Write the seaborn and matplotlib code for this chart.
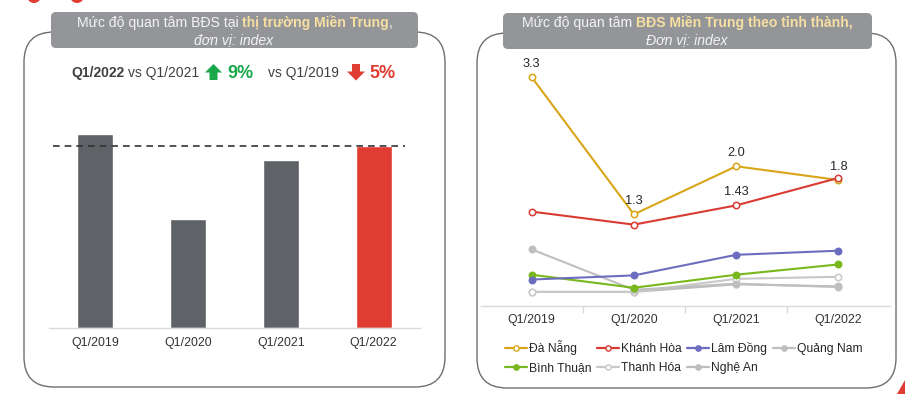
import matplotlib
matplotlib.use("Agg")
import matplotlib.pyplot as plt
import matplotlib.patches as mpatches
from matplotlib.lines import Line2D
import seaborn as sns

# ---------------- data ----------------
quarters = ["Q1/2019", "Q1/2020", "Q1/2021", "Q1/2022"]
bar_values = [100, 56, 86.7, 94.1]
bar_colors = ["#5F6266", "#5F6266", "#5F6266", "#E03C31"]

series_names = ["Đà Nẵng", "Khánh Hòa", "Lâm Đồng", "Quảng Nam",
                "Bình Thuận", "Thanh Hóa", "Nghệ An"]
da_nang = [3.3, 1.3, 2.0, 1.8]
khanh_hoa = [1.34, 1.15, 1.43, 1.83]
lam_dong = [0.35, 0.41, 0.71, 0.77]
quang_nam = [0.79, 0.20, 0.29, 0.24]
binh_thuan = [0.42, 0.23, 0.42, 0.57]
thanh_hoa = [0.17, 0.17, 0.36, 0.39]
nghe_an = [0.17, 0.17, 0.28, 0.25]
da_nang_labels = ["3.3", "1.3", "2.0", "1.8"]
khanh_hoa_label_2021 = "1.43"

sns.set_theme(style="white")
plt.rcParams["font.family"] = ["Liberation Sans", "DejaVu Sans"]

W, H = 905, 394
fig = plt.figure(figsize=(W / 100, H / 100), dpi=100)

# overlay axes in pixel coordinates
ov = fig.add_axes([0, 0, 1, 1], zorder=0)
ov.set_xlim(0, W)
ov.set_ylim(H, 0)
ov.axis("off")
ov.patch.set_alpha(0)


def fx(x):
    return x / W


def fy(y):
    return 1 - y / H


# panel boxes
for (x0, y0, x1, y1) in [(24, 32, 445, 387), (477, 33, 896, 388)]:
    ov.add_patch(mpatches.FancyBboxPatch((x0, y0), x1 - x0, y1 - y0,
                                         boxstyle="round,pad=0,rounding_size=30",
                                         fc="white", ec="#6f6f6f", lw=1.0))
# title boxes
for (x0, y0, x1, y1) in [(51, 12, 418, 48), (503, 13, 872, 49)]:
    ov.add_patch(mpatches.FancyBboxPatch((x0, y0), x1 - x0, y1 - y0,
                                         boxstyle="round,pad=0,rounding_size=5",
                                         fc="#939598", ec="none"))

# red decorations
ov.add_patch(mpatches.Circle((34, -4), 7, fc="#E03C31", ec="none", clip_on=False))
ov.add_patch(mpatches.Circle((77, -4), 7, fc="#E03C31", ec="none", clip_on=False))
ov.add_patch(mpatches.Polygon([(897, 394), (905, 380), (905, 394)], closed=True,
                              fc="#E03C31", ec="none", clip_on=False))

renderer = fig.canvas.get_renderer()


def seq_text(parts, cx, y):
    objs, gaps = [], []
    for s, kw, gap in parts:
        t = ov.text(0, y, s, va="center", ha="left", **kw)
        objs.append(t)
        gaps.append(gap)
    widths = [t.get_window_extent(renderer).width for t in objs]
    total = sum(widths) + sum(gaps)
    x = cx - total / 2
    for t, w, g in zip(objs, widths, gaps):
        t.set_x(x)
        x += w + g


light = "#F4F4F4"
yellow = "#F7DFA2"
tsize = 10.1
seq_text([("Mức độ quan tâm BĐS tại", dict(color=light, fontsize=tsize), 3.6),
          ("thị trường Miền Trung", dict(color=yellow, fontsize=tsize, fontweight="bold"), 0),
          (",", dict(color=light, fontsize=tsize), 0)], 234.5, 23)
ov.text(234, 40, "đơn vị: index", color=light, fontsize=tsize, style="italic",
        ha="center", va="center")

seq_text([("Mức độ quan tâm", dict(color=light, fontsize=tsize), 3.6),
          ("BĐS Miền Trung theo tỉnh thành,", dict(color=yellow, fontsize=tsize, fontweight="bold"), 0)],
         687, 23)
ov.text(687, 40, "Đơn vị: index", color=light, fontsize=tsize, style="italic",
        ha="center", va="center")

# comparison row
dark = "#404040"
green = "#1AA84B"
red = "#E03C31"
ov.text(71, 73, "Q1/2022", color=dark, fontsize=10, fontweight="bold", ha="left", va="center")
ov.text(128, 73, "vs Q1/2021", color=dark, fontsize=10, ha="left", va="center")
ov.add_patch(mpatches.Polygon([(209.5, 80), (209.5, 72.5), (205, 72.5), (213.5, 64),
                               (222, 72.5), (217.5, 72.5), (217.5, 80)],
                              closed=True, fc=green, ec="none"))
ov.text(227, 73.5, "9%", color=green, fontsize=13, fontweight="bold", ha="left", va="center")
ov.text(268, 73, "vs Q1/2019", color=dark, fontsize=10, ha="left", va="center")
ov.add_patch(mpatches.Polygon([(352, 64), (352, 71.5), (347, 71.5), (356, 80.5),
                               (365, 71.5), (360, 71.5), (360, 64)],
                              closed=True, fc=red, ec="none"))
ov.text(369, 73.5, "5%", color=red, fontsize=13, fontweight="bold", ha="left", va="center")

# ---------------- bar chart ----------------
bx0, bx1, by0, by1 = 49, 420, 110, 327.7
ax1 = fig.add_axes([fx(bx0), fy(by1), (bx1 - bx0) / W, (by1 - by0) / H], zorder=1)
ax1.patch.set_alpha(0)
sns.barplot(x=quarters, y=bar_values, hue=quarters, palette=bar_colors,
            width=0.39, saturation=1, legend=False, ax=ax1)
ax1.set_xlim(-0.5, 3.5)
ax1.set_ylim(0, 112.56)
ax1.hlines(bar_values[3], -0.455, 3.34, colors="#333333", linestyles=(0, (4, 3)), lw=1.2)
for s in ["left", "right", "top"]:
    ax1.spines[s].set_visible(False)
ax1.spines["bottom"].set_color("#D9D9D9")
ax1.spines["bottom"].set_linewidth(1)
ax1.set_yticks([])
ax1.tick_params(axis="x", length=0, pad=7, labelsize=8.9, labelcolor="#333333")
ax1.set_xlabel("")
ax1.set_ylabel("")

# ---------------- line chart ----------------
lx0, lx1, ly0, ly1 = 480.5, 889.5, 55, 306
ax2 = fig.add_axes([fx(lx0), fy(ly1), (lx1 - lx0) / W, (ly1 - ly0) / H], zorder=1)
ax2.patch.set_alpha(0)

style = {
    "Đà Nẵng": (da_nang, "#D8A517", True),
    "Khánh Hòa": (khanh_hoa, "#D93A32", True),
    "Lâm Đồng": (lam_dong, "#6C6CC0", False),
    "Quảng Nam": (quang_nam, "#BFBFBF", False),
    "Bình Thuận": (binh_thuan, "#78B81C", False),
    "Thanh Hóa": (thanh_hoa, "#C8C8C8", True),
    "Nghệ An": (nghe_an, "#BDBDBD", False),
}
draw_order = ["Nghệ An", "Thanh Hóa", "Quảng Nam", "Bình Thuận", "Lâm Đồng",
              "Đà Nẵng", "Khánh Hòa"]
handles = {}
for name in draw_order:
    vals, col, hollow = style[name]
    sns.lineplot(x=quarters, y=vals, color=col, marker="o", markersize=4.6,
                 markerfacecolor="white" if hollow else col, markeredgecolor=col,
                 markeredgewidth=1.1, linewidth=1.5, ax=ax2, label=name)
    handles[name] = Line2D([0], [0], color=col, lw=1.6, marker="o", markersize=3.8,
                           markerfacecolor="white" if hollow else col,
                           markeredgecolor=col, markeredgewidth=1.0)
if ax2.get_legend() is not None:
    ax2.get_legend().remove()

ax2.set_xlim(-0.5, 3.5)
ax2.set_ylim(-2.5 / 70, (308.5 - ly0) / 70)
for i, lab in enumerate(da_nang_labels):
    ax2.annotate(lab, (i, da_nang[i]), xytext=(0, 9.5), textcoords="offset points",
                 ha="center", va="center", fontsize=9.2, color="#262626")
ax2.annotate(khanh_hoa_label_2021, (2, khanh_hoa[2]), xytext=(0, 9.5), textcoords="offset points",
             ha="center", va="center", fontsize=9.2, color="#262626")

for s in ["left", "right", "top"]:
    ax2.spines[s].set_visible(False)
ax2.spines["bottom"].set_color("#D9D9D9")
ax2.spines["bottom"].set_linewidth(1)
ax2.set_yticks([])
ax2.set_xticks([0.5, 1.5, 2.5], minor=True)
ax2.tick_params(axis="x", which="major", length=0, pad=5.5, labelsize=8.9, labelcolor="#333333")
ax2.tick_params(axis="x", which="minor", length=5, width=1, color="#D9D9D9", bottom=True)
ax2.set_xlabel("")
ax2.set_ylabel("")

leg_order = ["Đà Nẵng", "Bình Thuận", "Khánh Hòa", "Thanh Hóa", "Lâm Đồng", "Nghệ An", "Quảng Nam"]
fig.legend([handles[n] for n in leg_order], leg_order, ncol=4, loc="upper left",
           bbox_to_anchor=(fx(505), fy(340)), frameon=False, fontsize=8.7,
           handlelength=1.8, handletextpad=0.15, columnspacing=0.5,
           labelspacing=0.6, borderpad=0, borderaxespad=0, labelcolor="#262626")

fig.savefig("out.png", dpi=100)
